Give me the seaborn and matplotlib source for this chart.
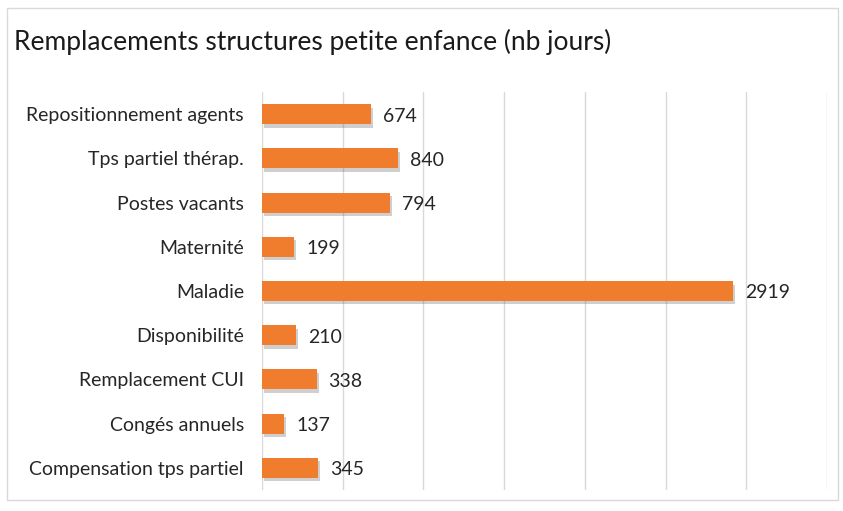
import matplotlib
matplotlib.use("Agg")
import matplotlib.pyplot as plt
import matplotlib.patheffects as pe
import seaborn as sns
import pandas as pd
from matplotlib.patches import Rectangle

categories = ["Repositionnement agents", "Tps partiel thérap.", "Postes vacants", "Maternité",
              "Maladie", "Disponibilité", "Remplacement CUI", "Congés annuels",
              "Compensation tps partiel"]
values = [674, 840, 794, 199, 2919, 210, 338, 137, 345]
title = "Remplacements structures petite enfance (nb jours)"

df = pd.DataFrame({"cat": categories, "val": values})

sns.set_theme(style="white")
plt.rcParams["font.family"] = ["Lato", "DejaVu Sans"]

W, H = 843, 511
fig = plt.figure(figsize=(W / 100, H / 100), dpi=100)
fig.patch.set_facecolor("white")

# outer frame
fig.add_artist(Rectangle((7 / W, 1 - 500 / H), (838 - 7) / W, (500 - 8) / H,
                         transform=fig.transFigure, fill=False, edgecolor="#d9d9d9", lw=1))

ax = fig.add_axes([262 / W, 1 - 490 / H, 565 / W, 398 / H])
sns.barplot(data=df, y="cat", x="val", orient="h", color="#F07D2E", width=0.45,
            saturation=1, ax=ax, zorder=3, linewidth=0, edgecolor="none")
for p in ax.patches:
    p.set_path_effects([pe.SimplePatchShadow(offset=(1.5, -2.5), shadow_rgbFace="#606060", alpha=0.3),
                        pe.Normal()])
ax.set_xlim(0, 3500)
ax.set_xticks(range(0, 3501, 500))
ax.grid(axis="x", color="#d9d9d9", lw=1, zorder=0)
ax.tick_params(axis="x", labelbottom=False, length=0)
ax.tick_params(axis="y", length=0, labelsize=14, pad=13, colors="#262626")
for s in ax.spines.values():
    s.set_visible(False)
ax.set_xlabel("")
ax.set_ylabel("")

for i, v in enumerate(values):
    ax.annotate(str(v), (v, i), xytext=(12, -2), textcoords="offset pixels",
                va="center", ha="left", fontsize=14, color="#262626")

fig.text(14 / W, 1 - 42 / H, title, fontsize=19, color="#1a1a1a", va="center", ha="left")

fig.savefig("out.png", dpi=100)
